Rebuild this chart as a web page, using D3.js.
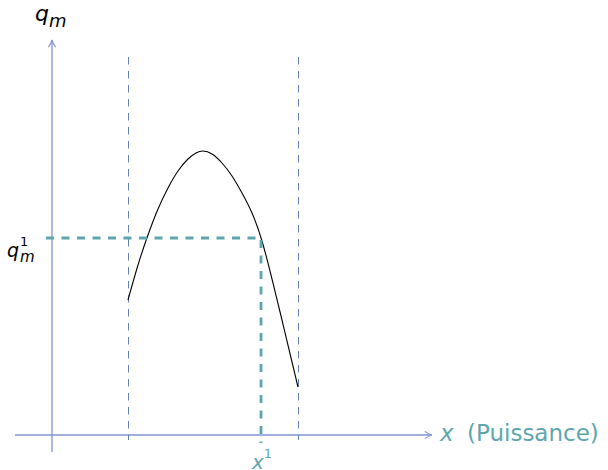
<!DOCTYPE html>
<html>
<head>
<meta charset="utf-8">
<script src="https://cdn.jsdelivr.net/npm/d3@7"></script>
<style>
  body { margin: 0; background: #fff; }
  svg { display: block; }
</style>
</head>
<body>
<svg id="chart"></svg>
<script>
const width = 608;
const height = 470;

const svg = d3.select("#chart")
  .attr("width", width)
  .attr("height", height);

// courbe qm(x)
const curveX = [7.6, 8.6, 9.6, 10.6, 11.6, 12.6, 13.6, 14.4, 15.1, 16.0, 17.0, 18.0, 19.0, 20.0, 21.0, 22.0, 23.0, 24.0, 24.6];
const curveY = [13.5, 17.0, 20.0, 22.6, 24.7, 26.4, 27.6, 28.2, 28.4, 28.1, 27.2, 25.9, 24.2, 22.2, 19.4, 15.6, 11.5, 7.3, 4.8];

// bornes (lignes pointillées) et point de fonctionnement
const bornes = [7.6, 24.6];
const x1Val = 20.9;
const qm1Val = 19.7;

const xDomain = [0, 38];
const yDomain = [0, 39.5];

const x = d3.scaleLinear().domain(xDomain).range([52, 432]);
const y = d3.scaleLinear().domain(yDomain).range([435, 40]);

const axisColor = "#8294d4";
const borneColor = "#6580b5";
const teal = "#5ea6ae";

// flèche
svg.append("defs").append("marker")
  .attr("id", "arrow")
  .attr("viewBox", "0 0 10 10")
  .attr("refX", 9)
  .attr("refY", 5)
  .attr("markerWidth", 9)
  .attr("markerHeight", 9)
  .attr("markerUnits", "userSpaceOnUse")
  .attr("orient", "auto")
  .append("path")
  .attr("d", "M1,1 Q5,4 9,5 Q5,6 1,9")
  .attr("fill", "none")
  .attr("stroke", axisColor)
  .attr("stroke-width", 1.2);

// axes
svg.append("line")
  .attr("x1", x(-3.7)).attr("x2", x(xDomain[1]))
  .attr("y1", y(0)).attr("y2", y(0))
  .attr("stroke", axisColor).attr("stroke-width", 1.3)
  .attr("marker-end", "url(#arrow)");

svg.append("line")
  .attr("x1", x(0)).attr("x2", x(0))
  .attr("y1", y(-1.7)).attr("y2", y(yDomain[1]))
  .attr("stroke", axisColor).attr("stroke-width", 1.3)
  .attr("marker-end", "url(#arrow)");

// lignes verticales des bornes (décalées d'un demi pixel pour rester nettes)
svg.append("g")
  .attr("transform", "translate(0.5,0)")
  .selectAll("line.borne").data(bornes).enter()
  .append("line")
  .attr("class", "borne")
  .attr("x1", d => x(d)).attr("x2", d => x(d))
  .attr("y1", y(37.8)).attr("y2", y(-0.5))
  .attr("stroke", borneColor).attr("stroke-width", 1)
  .attr("stroke-dasharray", "7.5,6.5");

// courbe
const line = d3.line()
  .x(d => x(d[0]))
  .y(d => y(d[1]))
  .curve(d3.curveNatural);

svg.append("path")
  .datum(d3.zip(curveX, curveY))
  .attr("d", line)
  .attr("fill", "none")
  .attr("stroke", "black")
  .attr("stroke-width", 1.1);

// projections du point (x1, qm1)
svg.append("path")
  .attr("d", d3.line()([[x(-0.6), y(qm1Val)], [x(x1Val), y(qm1Val)], [x(x1Val), y(-0.8)]]))
  .attr("fill", "none")
  .attr("stroke", teal).attr("stroke-width", 2.8)
  .attr("stroke-dasharray", "8,7.5");

// textes
const font = "'DejaVu Sans', sans-serif";

const qm = svg.append("text")
  .attr("x", 35).attr("y", 21)
  .attr("font-family", font).attr("font-style", "italic")
  .attr("font-size", 22).attr("fill", "black");
qm.append("tspan").text("q");
qm.append("tspan").attr("font-size", 18).attr("dy", 6).text("m");

const qm1 = svg.append("text")
  .attr("x", 7).attr("y", 257)
  .attr("font-family", font).attr("font-style", "italic")
  .attr("font-size", 19).attr("fill", "black");
qm1.append("tspan").text("q");
qm1.append("tspan").attr("font-size", 13).attr("font-style", "normal").attr("dx", 1).attr("dy", -11).text("1");
qm1.append("tspan").attr("font-size", 15).attr("x", 20).attr("dy", 16).text("m");

const xl = svg.append("text")
  .attr("x", 252).attr("y", 469)
  .attr("font-family", font).attr("font-style", "italic")
  .attr("font-size", 20).attr("fill", teal);
xl.append("tspan").text("x");
xl.append("tspan").attr("font-size", 13).attr("font-style", "normal").attr("dy", -11).text("1");

svg.append("text")
  .attr("x", 440).attr("y", 441)
  .attr("font-family", font).attr("font-style", "italic")
  .attr("font-size", 23).attr("fill", teal)
  .text("x");

svg.append("text")
  .attr("x", 467).attr("y", 441)
  .attr("font-family", font)
  .attr("font-size", 23).attr("fill", teal)
  .text("(Puissance)");
</script>
</body>
</html>
